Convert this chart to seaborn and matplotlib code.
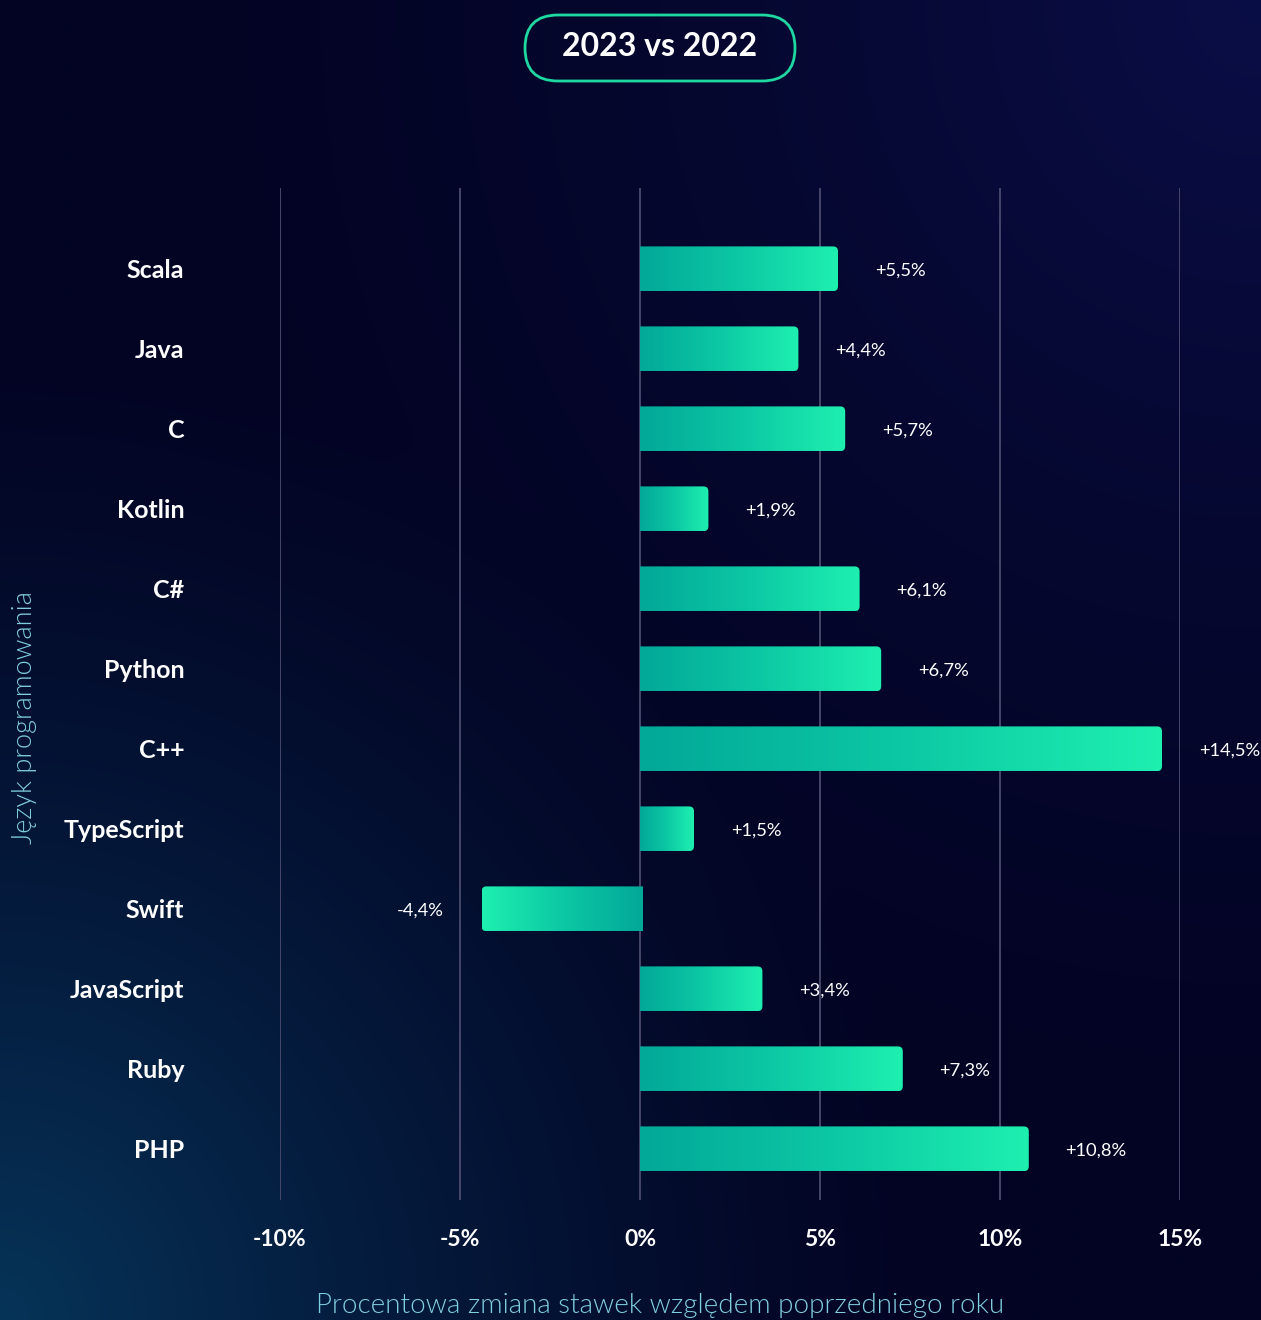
import numpy as np
import pandas as pd
import seaborn as sns
import matplotlib
matplotlib.use("Agg")
import matplotlib.pyplot as plt
from matplotlib.patches import FancyBboxPatch
from matplotlib.colors import LinearSegmentedColormap

# --- data -------------------------------------------------------------
languages = ["Scala", "Java", "C", "Kotlin", "C#", "Python", "C++",
             "TypeScript", "Swift", "JavaScript", "Ruby", "PHP"]
change_pct = [5.5, 4.4, 5.7, 1.9, 6.1, 6.7, 14.5, 1.5, -4.4, 3.4, 7.3, 10.8]
x_ticks = [-10, -5, 0, 5, 10, 15]
x_tick_labels = ["-10%", "-5%", "0%", "5%", "10%", "15%"]

title_text = "2023 vs 2022"
x_label = "Procentowa zmiana stawek względem poprzedniego roku"
y_label = "Język programowania"

df = pd.DataFrame({"lang": languages, "change": change_pct})

# --- style ------------------------------------------------------------
sns.set_theme(style="dark")
plt.rcParams["font.family"] = ["Lato", "DejaVu Sans"]

W, H, DPI = 1261, 1320, 100
fig = plt.figure(figsize=(W / DPI, H / DPI), dpi=DPI)

# background: deep navy with a blue glow top-right and teal glow bottom-left
bg_ax = fig.add_axes([0, 0, 1, 1], zorder=-10)
yy, xx = np.mgrid[0:1:300j, 0:1:300j]  # yy=0 at top
base = np.array([3, 4, 36]) / 255
blue = np.array([10, 14, 70]) / 255
teal = np.array([6, 52, 88]) / 255
d_tr = np.sqrt((1 - xx) ** 2 + yy ** 2)
d_bl = np.sqrt(xx ** 2 + (1 - yy) ** 2)
w_tr = np.clip(1 - d_tr / 0.9, 0, 1) ** 1.6
w_bl = np.clip(1 - d_bl / 0.75, 0, 1) ** 1.4
img = base[None, None, :] * np.ones((300, 300, 3))
img = img + (blue - base) * w_tr[..., None] + (teal - base) * w_bl[..., None]
bg_ax.imshow(np.clip(img, 0, 1), extent=[0, 1, 0, 1], aspect="auto",
             interpolation="bicubic")
bg_ax.set_axis_off()

# main axes: x from -10 (px 280) to 15 (px 1180), rows 80 px apart
ax = fig.add_axes([280 / W, 1 - 1200 / H, 900 / W, (1200 - 188) / H])
ax.patch.set_alpha(0)

sns.barplot(data=df, x="change", y="lang", orient="h", ax=ax,
            width=0.56, color="#10d0a8", saturation=1)

ax.set_xlim(-10, 15)
ax.set_ylim(11.64, -1.01)

grad_cmap = LinearSegmentedColormap.from_list("bar", ["#02a898", "#0cc8a4", "#1ef0b0"])
px_x = 36.0  # px per percent
px_y = 80.0  # px per row
r_px = 5.0

for patch, val in zip(list(ax.patches), change_pct):
    y0 = patch.get_y()
    h = patch.get_height()
    patch.set_visible(False)
    ext_pad = 0.3
    if val >= 0:
        bx0, bw = -ext_pad, val + ext_pad
        grad = np.linspace(0, 1, 256)[None, :]
        extent = [0, val, y0 + h, y0]
    else:
        bx0, bw = val, -val + ext_pad
        grad = np.linspace(1, 0, 256)[None, :]
        extent = [val, 0.05, y0 + h, y0]
    clip = FancyBboxPatch((bx0, y0), bw, h,
                          boxstyle=f"round,pad=0,rounding_size={r_px / px_x}",
                          mutation_aspect=px_x / px_y,
                          transform=ax.transData, facecolor="none",
                          edgecolor="none")
    ax.add_patch(clip)
    im = ax.imshow(grad, cmap=grad_cmap, extent=extent, aspect="auto",
                   interpolation="bilinear", zorder=3)
    im.set_clip_path(clip)
    # value label
    lbl = f"{val:+.1f}%".replace(".", ",")
    yc = y0 + h / 2 + 0.025
    if val >= 0:
        ax.text(val + 1.02, yc, lbl, ha="left", va="center",
                color="white", fontsize=13.2, zorder=5, clip_on=False)
    else:
        ax.text(val - 1.05, yc, lbl, ha="right", va="center",
                color="white", fontsize=13.2, zorder=5, clip_on=False)

ax.set_xlim(-10, 15)
ax.set_ylim(11.64, -1.01)

# grid
for t in x_ticks:
    ax.axvline(t, color="#4b4b6e", linewidth=1.3, zorder=1)
ax.grid(False)
for s in ax.spines.values():
    s.set_visible(False)

ax.set_xticks(x_ticks)
ax.set_xticklabels(x_tick_labels, fontsize=16.5, fontweight="bold", color="white")
ax.tick_params(axis="x", length=0, pad=21)
ax.set_yticks(range(len(languages)))
ax.set_yticklabels(languages, fontsize=18, fontweight="bold", color="white")
ax.tick_params(axis="y", length=0, pad=69)
ax.set_xlabel("")
ax.set_ylabel("")

# axis titles
fig.text(660 / W, 1 - 1305 / H, x_label, ha="center", va="center",
         color="#7fcfe0", fontsize=20, fontweight=300)
fig.text(25 / W, 1 - 718 / H, y_label, ha="center", va="center",
         rotation=90, color="#7fcfe0", fontsize=19.5, fontweight=300)

# title pill
pill = FancyBboxPatch((525 / W, 1 - 81 / H), 270 / W, 66 / H,
                      boxstyle=f"round,pad=0,rounding_size={33 / W}",
                      mutation_aspect=W / H,
                      transform=fig.transFigure, facecolor="none",
                      edgecolor="#1ed8a2", linewidth=2)
fig.patches.append(pill)
fig.text(660 / W, 1 - 47 / H, title_text, ha="center", va="center",
         color="white", fontsize=23, fontweight="bold")

fig.savefig("out.png", dpi=DPI)
